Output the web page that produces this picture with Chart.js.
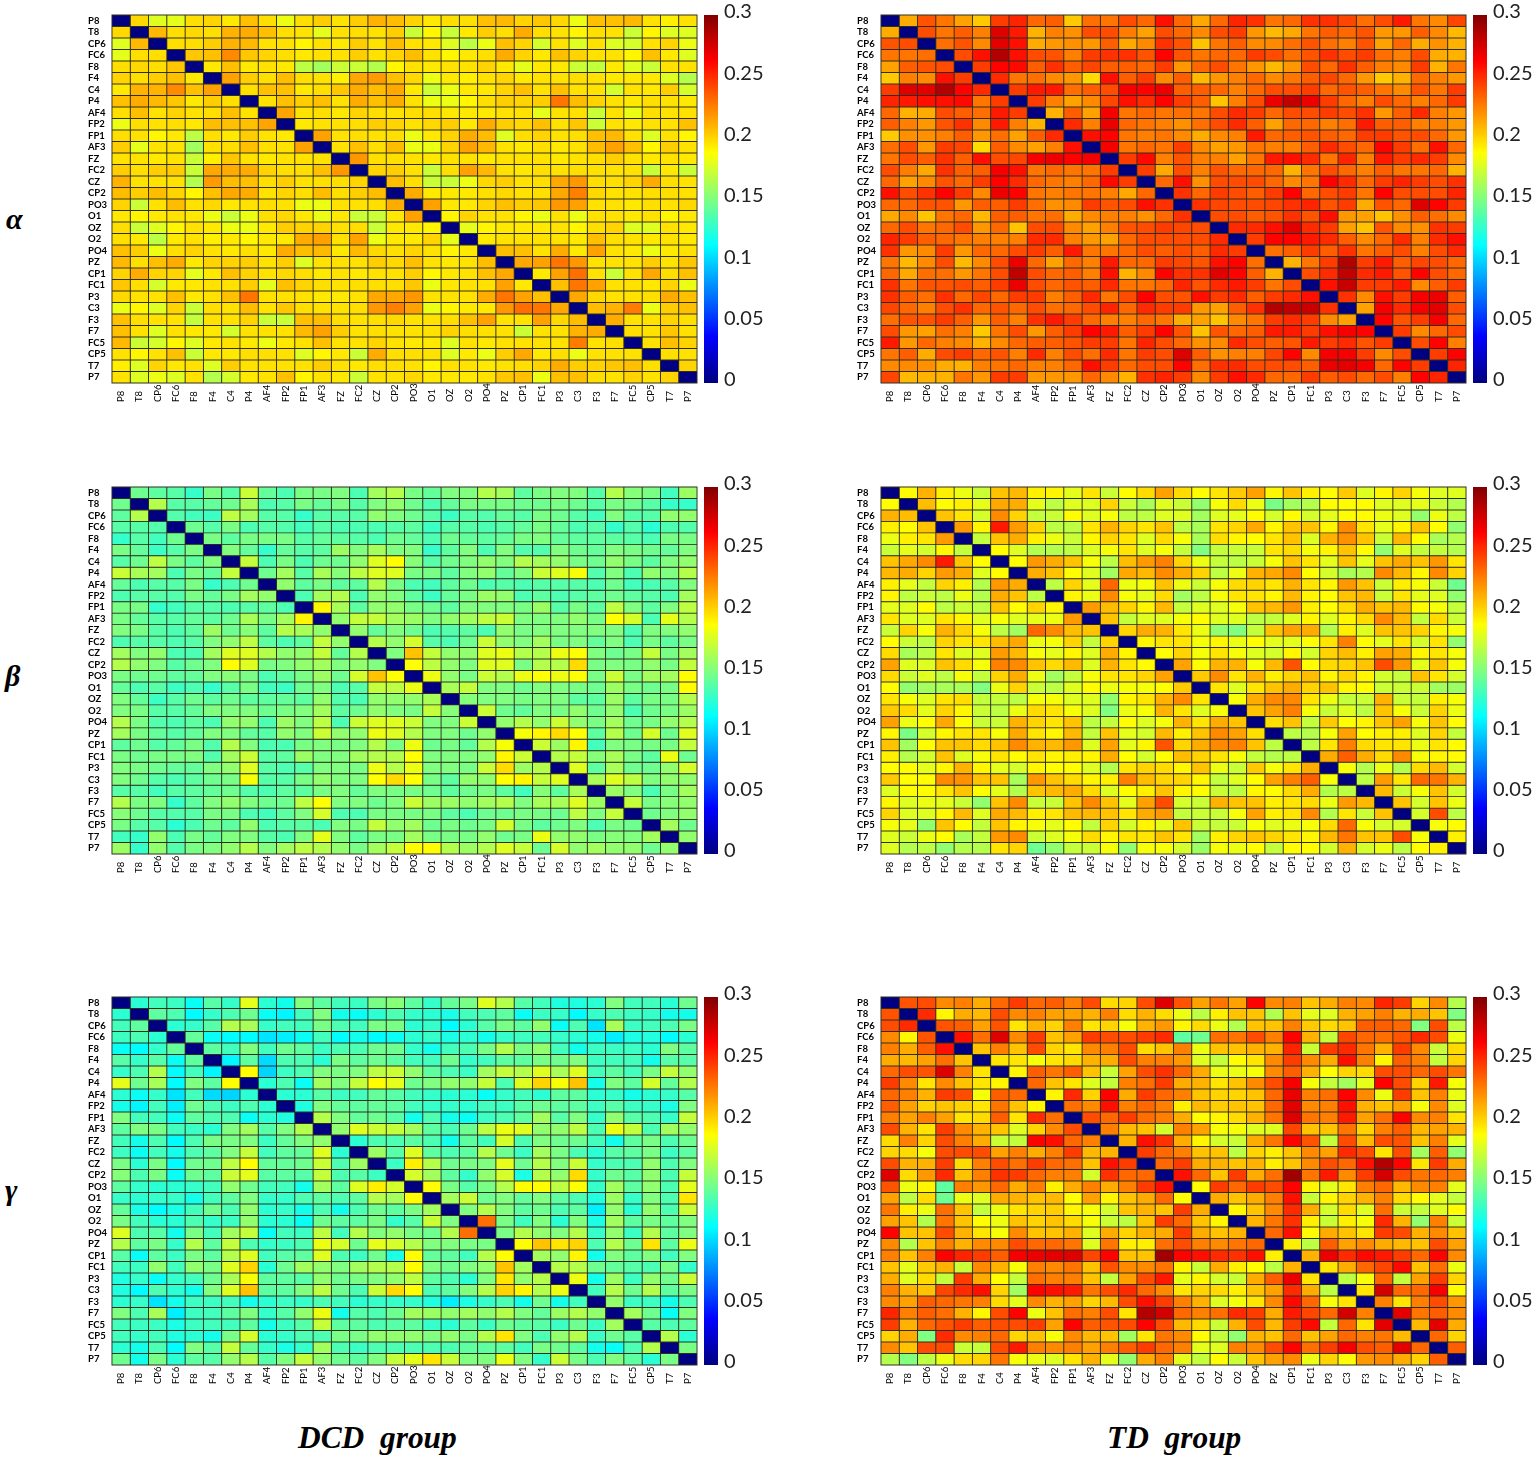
<!DOCTYPE html>
<html><head><meta charset="utf-8"><title>EEG connectivity</title>
<script src="https://cdn.jsdelivr.net/npm/chart.js@4"></script>
<style>
html,body{margin:0;padding:0;background:#fff;}
body{position:relative;width:1535px;height:1459px;overflow:hidden;}
.box{position:absolute;}
.lab{position:absolute;font-family:"Liberation Serif",serif;font-style:italic;font-weight:bold;color:#000;white-space:pre;line-height:1;}
</style></head><body>
<div class="lab" style="left:6px;top:204px;font-size:30px">α</div>
<div class="lab" style="left:5px;top:661px;font-size:30px">β</div>
<div class="lab" style="left:5px;top:1175px;font-size:30px">γ</div>
<div class="lab" style="left:298px;top:1422px;font-size:31.4px">DCD  group</div>
<div class="lab" style="left:1107px;top:1422px;font-size:31.4px">TD  group</div>
<script>
const channels=["P8","T8","CP6","FC6","F8","F4","C4","P4","AF4","FP2","FP1","AF3","FZ","FC2","CZ","CP2","PO3","O1","OZ","O2","PO4","PZ","CP1","FC1","P3","C3","F3","F7","FC5","CP5","T7","P7"];
const colorbarTicks=[0,0.05,0.1,0.15,0.2,0.25,0.3];
const colorbarLabels=["0","0.05","0.1","0.15","0.2","0.25","0.3"];
// upper triangles of the symmetric matrices, in thousandths
const alphaDCD=[
[199,178,180,197,200,194,206,197,182,197,202,196,202,210,207,200,194,197,197,206,208,200,204,199,182,206,206,208,196,192,196],
[208,197,199,197,210,212,206,197,196,180,196,197,196,202,172,190,172,194,202,197,212,197,196,190,197,196,172,190,178,178],
[197,197,202,210,208,196,196,190,196,194,202,196,207,196,194,178,168,182,206,200,175,196,178,196,178,175,196,200,182],
[204,206,222,204,200,197,194,196,196,202,196,200,207,196,190,194,197,212,200,194,206,200,196,196,190,206,194,178],
[194,206,194,196,194,168,160,172,172,165,190,196,194,196,196,200,194,180,194,194,172,170,194,178,172,196,196],
[215,202,197,207,197,196,192,213,217,206,199,182,194,192,196,200,194,196,196,197,196,194,194,194,178,165],
[197,206,206,194,197,204,212,207,213,194,172,182,194,194,200,206,196,206,196,196,175,196,194,202,175],
[196,206,202,206,196,212,206,212,196,182,182,190,197,202,200,202,228,207,200,196,194,197,196,194],
[214,196,197,194,200,197,196,197,197,194,194,194,196,196,180,196,196,172,196,182,197,196,196],
[194,196,196,197,202,200,196,199,202,194,212,202,199,206,196,204,172,196,194,196,196,206],
[215,196,197,196,197,182,194,200,212,207,178,197,200,196,197,206,208,196,178,196,190],
[196,206,197,207,182,182,200,215,208,196,194,197,194,196,207,215,206,190,202,196],
[218,197,197,196,194,196,196,194,196,196,196,194,196,197,202,196,194,196,194],
[200,202,196,172,197,215,208,196,194,197,196,197,196,196,196,172,194,172],
[207,197,172,172,182,199,202,196,197,213,218,197,197,200,212,197,196],
[212,194,194,194,197,199,196,197,213,225,199,196,196,197,197,196],
[215,194,194,200,206,202,204,218,215,196,196,194,197,196,199],
[190,200,196,196,190,182,196,182,196,196,194,196,190,194],
[180,190,194,194,194,196,190,197,200,178,178,196,194],
[194,196,196,196,196,194,206,197,196,194,196,194],
[207,206,196,212,194,215,196,194,182,194,196],
[213,215,228,218,196,196,196,202,196,204],
[194,215,230,196,172,196,213,197,206],
[206,228,215,196,196,194,200,182],
[213,199,196,196,197,212,206],
[207,210,226,182,202,206],
[212,196,196,200,197],
[197,196,204,196],
[196,206,200],
[197,196],
[200]];
const alphaTD=[
[212,238,228,215,203,245,252,232,235,203,230,228,240,232,258,232,213,232,252,248,228,232,248,248,242,230,240,255,228,222,242],
[240,228,235,225,272,255,210,225,220,240,240,226,215,240,232,222,240,245,218,208,213,228,235,232,238,218,218,235,222,208],
[230,238,222,270,258,212,218,220,218,235,213,222,248,238,205,228,235,222,222,230,238,230,225,238,215,232,212,220,210],
[240,258,285,258,240,238,225,245,248,248,238,262,238,228,232,232,245,240,230,238,248,240,245,230,225,240,212,210],
[245,262,260,235,248,235,242,235,235,232,245,218,232,240,228,218,208,218,240,232,248,235,225,222,245,210,228],
[250,228,230,222,218,198,258,235,245,222,235,208,218,225,232,222,228,235,242,232,218,203,210,232,225,218],
[245,255,255,230,235,240,265,262,268,235,235,232,225,232,240,240,245,232,238,235,228,222,238,228,245],
[245,225,215,222,242,258,250,262,245,235,205,225,240,268,280,268,245,232,225,240,232,225,232,245],
[210,235,215,265,228,232,228,230,228,240,250,245,232,240,240,245,240,248,218,235,250,225,218],
[250,225,268,232,228,225,220,230,240,250,235,215,232,232,225,230,255,235,235,225,225,218],
[258,262,228,225,228,222,212,222,225,255,232,235,238,235,232,245,245,238,240,232,218],
[265,228,232,228,245,222,215,218,228,225,225,235,250,240,232,262,245,230,258,232],
[245,260,225,238,225,225,215,228,255,258,250,228,252,225,255,245,250,245,222],
[245,213,240,225,238,232,232,232,210,228,240,232,225,235,228,228,232,210],
[232,258,220,240,240,240,232,222,228,262,250,232,245,252,245,240,248],
[248,232,245,240,235,245,262,232,240,245,228,262,240,240,240,252],
[248,242,240,240,242,248,252,238,245,212,238,232,272,262,245],
[240,240,235,238,248,238,258,218,215,205,220,235,230,222],
[250,250,258,270,250,245,215,205,238,222,220,248,245],
[245,262,262,255,250,235,222,232,250,225,250,258],
[230,235,245,235,248,228,235,240,225,240,250],
[210,228,245,285,245,255,235,242,240,232],
[240,250,280,250,255,238,262,240,232],
[258,278,245,245,255,222,235,245],
[248,222,258,245,265,268,235],
[215,265,250,265,270,240],
[262,238,245,265,232],
[245,222,232,240],
[240,262,225],
[245,262],
[252]];
const betaDCD=[
[145,140,138,128,148,138,172,142,135,148,148,150,135,160,165,148,142,150,150,165,160,140,148,150,150,138,165,152,148,132,158],
[165,138,138,142,145,162,135,138,148,142,148,138,150,155,145,135,142,148,148,148,145,145,148,145,138,148,145,138,128,128],
[137,132,130,168,160,138,138,128,138,138,138,155,150,145,138,130,138,137,142,138,148,145,138,132,150,138,138,155,155],
[145,138,148,135,138,137,132,138,135,135,135,138,140,130,138,138,135,138,142,148,142,135,138,128,137,125,135,137],
[148,140,148,148,148,138,142,140,138,135,145,142,135,145,142,140,142,148,150,142,140,140,140,138,135,148,148],
[150,142,128,142,138,140,158,150,160,150,150,128,140,150,135,150,137,137,150,145,142,150,148,145,142,150],
[170,135,148,135,145,145,155,178,188,152,138,145,150,155,150,165,160,155,148,145,155,148,140,150,155],
[145,160,138,162,152,168,178,178,148,148,140,150,155,142,150,172,178,185,137,150,135,155,150,165],
[155,140,148,140,140,165,148,135,132,140,145,135,138,135,138,138,138,135,145,132,135,138,150],
[135,160,165,135,155,150,140,130,142,148,158,155,135,140,135,138,140,145,140,138,135,160],
[190,162,140,155,155,148,145,140,150,150,150,148,158,138,148,140,168,150,140,150,168],
[155,170,170,160,158,150,155,160,168,172,150,150,150,155,148,187,175,135,180,165],
[155,142,150,145,135,137,140,135,155,148,150,150,150,150,150,135,150,150,155],
[165,155,175,138,135,145,172,155,150,160,148,150,142,150,135,148,140,148],
[150,205,170,155,155,178,182,165,165,182,187,150,145,148,170,148,160],
[187,168,155,150,178,178,148,165,165,198,148,150,148,155,148,170],
[182,155,148,172,165,182,187,182,187,148,172,148,160,160,188],
[162,170,150,150,145,150,150,148,145,158,148,145,148,188],
[152,150,150,148,150,150,140,140,158,140,148,148,165],
[172,145,142,150,148,155,145,155,135,145,148,158],
[155,165,155,172,155,148,160,145,148,155,165],
[185,190,198,187,140,165,145,175,145,178],
[172,158,190,132,150,148,148,148,170],
[165,170,152,162,148,140,182,145],
[178,140,162,145,145,155,175],
[162,178,168,150,155,155],
[158,150,135,148,160],
[170,148,152,155],
[145,150,155],
[160,145],
[155]];
const betaTD=[
[188,210,192,182,172,205,208,192,190,180,195,172,188,198,215,198,188,195,203,215,190,205,192,188,203,178,190,200,185,178,178],
[207,188,192,180,213,212,180,168,178,178,200,172,162,178,172,155,185,198,182,148,160,165,188,188,188,178,178,180,172,165],
[205,195,175,222,200,170,172,188,178,185,168,168,178,178,160,178,180,188,175,188,175,180,188,188,182,178,155,182,168],
[217,190,255,217,200,168,168,195,210,200,195,205,168,162,195,200,213,190,205,205,190,222,195,180,190,205,188,155],
[170,205,212,192,182,172,190,200,195,178,198,185,162,197,190,188,195,205,178,210,220,205,172,208,188,162,165],
[188,178,165,165,168,178,185,195,178,185,170,150,170,172,172,195,198,185,190,205,188,155,178,170,170,165],
[188,218,212,205,185,168,207,217,225,200,182,170,168,172,185,205,195,180,205,180,205,213,205,218,195],
[212,205,188,178,160,213,208,222,212,200,168,182,210,213,222,188,175,162,165,222,208,190,222,200],
[168,200,180,232,182,185,205,182,172,185,198,200,195,210,195,190,218,205,172,192,185,172,145],
[190,182,222,185,180,198,160,168,185,195,195,190,208,190,188,205,208,172,195,180,178,155],
[217,207,200,190,208,170,178,178,185,205,208,218,192,188,198,212,205,208,188,185,170],
[205,170,178,178,185,188,178,178,168,170,178,190,178,190,198,222,208,170,198,172],
[200,212,210,195,182,155,150,170,205,215,212,165,192,178,205,205,200,190,185],
[190,195,195,185,190,182,188,180,180,187,195,225,188,180,195,175,195,155],
[188,200,185,195,185,178,175,190,175,200,207,192,215,212,190,195,185],
[215,188,210,210,185,208,238,188,198,200,205,240,218,180,205,185],
[203,222,195,210,192,200,207,190,200,190,175,170,205,195,175],
[195,178,195,205,212,200,205,190,188,172,172,172,160,158],
[185,212,222,222,195,182,170,172,210,172,170,192,185],
[205,215,225,185,172,178,168,205,185,172,200,182],
[197,205,170,203,188,190,205,215,185,205,188],
[168,165,185,215,188,192,192,178,200,170],
[168,195,225,198,195,195,182,195,188],
[212,235,212,198,222,185,190,188],
[185,165,182,165,198,208,175],
[168,217,195,232,228,210],
[208,172,185,205,175],
[205,175,205,182],
[175,240,168],
[185,188],
[192]];
const gammaDCD=[
[125,132,130,115,138,128,180,125,118,150,140,132,130,148,152,140,128,142,148,178,165,138,132,122,122,125,150,132,132,125,145],
[140,135,112,128,135,145,115,110,132,150,118,115,125,135,128,125,120,132,135,140,115,130,128,112,128,135,130,128,118,118],
[125,128,138,165,162,128,132,132,148,135,132,148,148,125,128,112,125,138,148,140,155,115,135,105,162,130,132,135,148],
[142,115,112,112,105,108,115,132,112,118,112,115,125,128,120,125,118,128,130,132,128,125,118,108,120,122,112,125],
[140,132,150,132,145,140,130,135,135,145,145,128,118,132,135,148,165,148,155,132,118,130,130,130,125,150,140],
[110,140,102,135,135,125,148,140,145,140,132,132,145,128,132,140,140,148,145,150,130,132,132,118,138,138],
[188,100,130,135,150,148,150,168,172,155,140,135,130,160,170,165,178,162,178,132,140,132,148,170,155],
[125,135,115,160,150,170,188,180,145,150,155,155,170,135,178,200,185,205,118,150,140,175,142,165],
[125,125,138,130,132,142,138,132,128,125,125,115,128,132,125,140,140,125,128,118,125,128,138],
[122,150,142,140,142,140,132,128,128,125,132,130,138,145,140,140,130,138,130,128,120,150],
[165,150,142,145,138,118,135,118,115,130,135,140,160,138,150,128,155,138,135,128,170],
[155,178,172,170,160,140,135,145,168,182,178,155,155,168,135,182,170,135,160,155],
[125,135,135,140,135,118,140,132,175,135,150,145,145,132,118,140,148,135,145],
[158,138,178,140,135,140,165,145,130,160,148,135,125,138,140,148,130,140],
[130,192,165,145,148,150,180,145,165,150,172,128,135,135,155,135,150],
[175,160,140,128,155,175,120,165,155,198,128,145,138,155,135,170],
[188,148,138,148,165,188,188,168,187,128,160,140,155,135,180],
[160,172,145,150,142,150,140,135,122,158,128,150,135,195],
[150,165,150,140,145,135,140,108,155,125,155,135,172],
[230,148,132,150,125,150,120,160,140,148,140,150],
[148,165,155,150,165,128,155,130,165,140,150],
[188,205,195,200,135,165,145,195,140,182],
[160,155,190,118,150,140,150,132,150],
[165,165,145,142,138,135,148,128],
[182,118,158,130,155,145,172],
[132,165,145,165,140,148],
[155,130,130,118,135],
[160,145,115,150],
[138,135,140],
[165,125],
[148]];
const gammaTD=[
[238,240,222,225,212,232,245,232,235,225,240,198,200,240,272,238,215,228,215,262,222,225,205,212,225,222,252,245,200,222,165],
[250,190,212,208,240,222,225,215,215,210,225,198,210,198,182,168,192,205,205,165,205,180,178,210,215,225,210,212,205,150],
[238,235,215,238,195,210,200,225,195,200,185,210,218,190,198,182,165,205,205,225,203,198,205,235,235,232,150,240,168],
[258,230,272,222,245,205,215,245,240,240,245,250,140,145,230,228,240,225,262,210,170,242,232,230,238,250,240,182],
[205,225,205,240,200,195,222,225,240,198,205,225,182,205,205,210,210,252,172,245,250,228,210,245,222,172,198],
[195,195,185,195,198,210,212,240,225,225,218,178,170,188,195,222,245,222,212,258,225,190,235,225,170,200],
[190,235,228,235,205,172,215,240,248,232,212,182,182,185,222,235,210,188,200,198,240,240,232,240,228],
[232,205,195,178,170,225,230,245,212,210,195,205,222,240,265,185,170,160,180,262,240,200,255,185],
[190,250,200,262,212,245,232,225,205,200,200,205,232,268,225,230,262,222,182,245,205,225,182],
[230,222,258,225,232,225,192,208,202,205,205,232,270,222,225,258,210,205,215,185,222,178],
[240,232,245,230,225,212,188,190,198,210,228,272,228,225,255,215,230,262,222,225,195],
[225,208,205,175,225,215,185,185,178,178,242,205,205,228,200,225,235,208,215,210],
[210,258,248,212,190,175,172,212,228,262,238,170,240,208,240,238,205,225,180],
[245,232,225,205,205,168,200,192,205,222,215,250,240,195,240,160,235,155],
[232,245,212,210,205,210,192,205,222,240,232,258,285,262,195,245,212],
[258,232,205,245,212,230,290,228,255,222,245,275,240,228,232,225],
[188,245,232,245,240,262,190,180,195,225,232,208,222,225,180],
[212,205,212,225,258,172,190,200,210,225,198,188,180,170],
[190,205,222,250,212,175,198,178,230,172,170,178,188],
[210,228,248,192,172,192,185,250,210,155,225,172],
[232,258,188,212,205,195,245,240,210,222,205],
[192,168,235,215,222,212,208,205,240,215],
[210,268,250,260,255,245,232,262,222],
[195,212,232,242,260,205,230,182],
[168,185,232,170,215,245,200],
[195,275,232,232,265,188],
[225,195,225,240,218],
[270,228,235,222],
[208,270,212],
[232,200],
[235]];

function fullMatrix(upper){
  const n=channels.length,m=[];
  for(let i=0;i<n;i++){m.push(new Array(n).fill(0));}
  upper.forEach((row,i)=>row.forEach((v,k)=>{const j=i+1+k;m[i][j]=v/1000;m[j][i]=v/1000;}));
  return m;
}
function jet(t){ // MATLAB jet colormap
  t=Math.max(0,Math.min(1,t));
  const c=x=>Math.round(255*Math.max(0,Math.min(1,1.5-Math.abs(4*t-x))));
  return `rgb(${c(3)},${c(2)},${c(1)})`;
}
const VMAX=0.3;
const GRID='#2f2f22';

const cellBacking={id:'cellBacking',beforeDatasetsDraw(chart){
  const a=chart.chartArea,c=chart.ctx;
  c.save();c.fillStyle=GRID;c.fillRect(a.left-0.5,a.top-0.5,a.width+1,a.height+1);c.restore();
}};
const bottomAlignLabels={id:'bottomAlignLabels',afterLayout(chart){
  const s=chart.scales.x;
  s.getLabelItems().forEach(it=>{it.options.textAlign='left';it.options.translation[1]=s.bottom-2;});
}};

function box(l,t,w,h){
  const d=document.createElement('div');d.className='box';
  d.style.cssText=`left:${l}px;top:${t}px;width:${w}px;height:${h}px`;
  const c=document.createElement('canvas');d.appendChild(c);document.body.appendChild(d);
  return c;
}
function heatmap(upper,left,top,right,bottom){
  const m=fullMatrix(upper);
  const AXL=24,AXB=21,PT=2,PR=2;
  const c=box(left-AXL,top-PT,right-left+AXL+PR,bottom-top+AXB+PT);
  new Chart(c,{type:'bar',plugins:[cellBacking,bottomAlignLabels],
    data:{labels:channels,datasets:channels.map((name,i)=>({
      label:name,
      data:channels.map(()=>1),
      backgroundColor:m[i].map(v=>jet(v/VMAX)),
      borderColor:GRID,borderWidth:0.45,borderSkipped:false,
      barPercentage:1,categoryPercentage:1,inflateAmount:0
    }))},
    options:{responsive:true,maintainAspectRatio:false,animation:false,
      layout:{padding:{top:PT,right:PR,left:0,bottom:0}},
      plugins:{legend:{display:false},tooltip:{enabled:false}},
      scales:{
        x:{stacked:true,grid:{display:false,drawTicks:false},border:{display:false},
          afterFit(s){s.height=AXB;s.paddingLeft=0;s.paddingRight=0;},
          ticks:{autoSkip:false,minRotation:90,maxRotation:90,padding:3,color:'#000',font:{family:'Lato',size:9.5}}},
        y:{type:'linear',stacked:true,reverse:true,min:0,max:channels.length,
          grid:{display:false,drawTicks:false},border:{display:false},
          afterFit(s){s.width=AXL;s.paddingTop=0;s.paddingBottom=0;},
          afterBuildTicks(s){s.ticks=channels.map((_,i)=>({value:i+0.5}));},
          ticks:{autoSkip:false,crossAlign:'far',padding:2,color:'#000',font:{family:'Lato',size:9.5,weight:'bold'},
            callback(v,i){return channels[i];}}}
      }}});
}
function colorbar(left,top,bottom){
  const W=14,AX=62,PAD=14;
  const c=box(left,top-PAD,W+AX,bottom-top+2*PAD);
  new Chart(c,{type:'bar',
    data:{labels:['scale'],datasets:[{data:[[0,VMAX]],barPercentage:1,categoryPercentage:1,
      backgroundColor(ctx){
        const a=ctx.chart.chartArea; if(!a) return '#000';
        const g=ctx.chart.ctx.createLinearGradient(0,a.bottom,0,a.top);
        for(let i=0;i<=64;i++) g.addColorStop(i/64,jet(i/64));
        return g;
      }}]},
    options:{responsive:true,maintainAspectRatio:false,animation:false,
      layout:{padding:{top:PAD,bottom:PAD,left:0,right:0}},
      plugins:{legend:{display:false},tooltip:{enabled:false}},
      scales:{
        x:{display:false},
        y:{position:'right',min:0,max:VMAX,grid:{display:false,drawTicks:false},border:{display:false},
          afterFit(s){s.width=AX;s.paddingTop=0;s.paddingBottom=0;},
          afterBuildTicks(s){s.ticks=colorbarTicks.map(v=>({value:v}));},
          ticks:{padding:6,labelOffset:-3,color:'#222',font:{family:'Lato',size:20},
            callback(v,i){return colorbarLabels[i];}}}
      }}});
}
const LX=[112,697],RX=[881,1466];
const rows=[[15,383],[487,854],[997,1365]];
[[alphaDCD,alphaTD],[betaDCD,betaTD],[gammaDCD,gammaTD]].forEach((pair,r)=>{
  const [t,b]=rows[r];
  heatmap(pair[0],LX[0],t,LX[1],b);
  heatmap(pair[1],RX[0],t,RX[1],b);
  colorbar(704,t,b);
  colorbar(1473,t,b);
});
</script>
</body></html>
